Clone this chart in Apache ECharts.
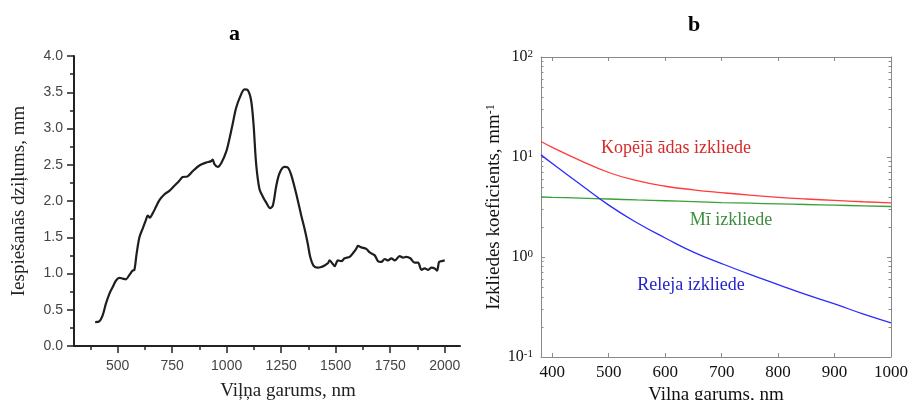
<!DOCTYPE html>
<html>
<head>
<meta charset="utf-8">
<script src="https://cdn.jsdelivr.net/npm/echarts@6/dist/echarts.min.js"></script>
<style>
  html, body { margin: 0; padding: 0; background: #fff; }
  #chart { width: 909px; height: 400px; }
</style>
</head>
<body>
<div id="chart"></div>
<script>
// a: penetration depth vs wavelength
var waveA = [397,416,431,446,462,477,492,508,523,538,554,569,577,587,600,615,630,638,648,661,676,691,714,737,760,783,798,821,844,875,906,929,936,944,959,975,998,1013,1028,1043,1062,1082,1097,1112,1123,1135,1150,1166,1181,1199,1212,1227,1242,1265,1281,1296,1319,1342,1357,1372,1383,1398,1418,1434,1449,1464,1472,1487,1495,1510,1526,1541,1564,1579,1594,1602,1618,1640,1656,1679,1694,1709,1725,1740,1755,1771,1793,1809,1824,1842,1862,1878,1893,1908,1924,1939,1954,1965,1974,1985,2000];
var depthA = [0.33,0.34,0.42,0.58,0.72,0.81,0.90,0.94,0.93,0.92,0.98,1.04,1.05,1.27,1.50,1.62,1.74,1.80,1.77,1.83,1.92,2.01,2.09,2.14,2.21,2.28,2.33,2.34,2.41,2.49,2.53,2.55,2.57,2.51,2.47,2.52,2.68,2.86,3.07,3.28,3.44,3.54,3.53,3.39,3.07,2.52,2.17,2.06,1.98,1.90,1.94,2.20,2.38,2.47,2.46,2.36,2.10,1.80,1.62,1.41,1.23,1.11,1.08,1.09,1.11,1.14,1.18,1.13,1.10,1.18,1.17,1.21,1.23,1.28,1.34,1.38,1.36,1.34,1.29,1.25,1.17,1.16,1.20,1.18,1.21,1.18,1.24,1.22,1.23,1.21,1.15,1.15,1.05,1.07,1.05,1.08,1.07,1.04,1.16,1.17,1.18];
var ticksA_major = [500,750,1000,1250,1500,1750,2000];
var ticksA_minor = [375,625,875,1125,1375,1625,1875];

// b: scattering coefficients (log scale)
var waveB = [380,400,450,500,550,600,650,700,750,800,850,900,950,1000];
var totalSkin = [14.3,12.5,9.2,7.0,5.8,5.1,4.7,4.4,4.15,3.95,3.8,3.68,3.57,3.47];
var mie = [3.98,3.95,3.88,3.8,3.72,3.65,3.58,3.5,3.45,3.4,3.35,3.3,3.25,3.2];
var rayleigh = [10.5,8.6,5.3,3.3,2.2,1.55,1.12,0.86,0.67,0.53,0.42,0.34,0.27,0.22];
var ticksB_x = [400,500,600,700,800,900,1000];
var ticksB_minor = [0.2,0.3,0.4,0.5,0.6,0.7,0.8,0.9,2,3,4,5,6,7,8,9,20,30,40,50,60,70,80,90];

var SERIF = "'Liberation Serif', 'DejaVu Serif', serif";
var SANS = "'Liberation Sans', Arial, sans-serif";

function pairs(xs, ys) {
  return xs.map(function (x, i) { return [x, ys[i]]; });
}
function plain(v) { return String(v); }

var chart = echarts.init(document.getElementById('chart'));

var frameB = { lineStyle: { color: '#8a8a8a', width: 1 } };
var tickB = { show: true, inside: true, length: 4, lineStyle: { color: '#8a8a8a' } };

chart.setOption({
  animation: false,
  title: [
    { text: 'a', left: 224, top: 18, textStyle: { fontFamily: SERIF, fontWeight: 'bold', fontSize: 22, color: '#000' } },
    { text: 'b', left: 683, top: 9, textStyle: { fontFamily: SERIF, fontWeight: 'bold', fontSize: 22, color: '#000' } }
  ],
  grid: [
    { left: 74, top: 56, width: 386, height: 290, outerBoundsMode: 'none', containLabel: false },
    { left: 541, top: 57, width: 350, height: 300, outerBoundsMode: 'none', containLabel: false }
  ],
  xAxis: [
    {
      gridIndex: 0, type: 'value', min: 300, max: 2070,
      name: 'Viļņa garums, nm', nameLocation: 'middle', nameGap: 36,
      nameTextStyle: { fontFamily: SERIF, fontSize: 19, color: '#222', padding: [0, 0, 0, 42] },
      axisLine: { lineStyle: { color: '#222', width: 2 } },
      axisTick: { show: true, length: 7, customValues: ticksA_major, lineStyle: { color: '#222', width: 1.5 } },
      axisLabel: { customValues: ticksA_major, formatter: plain, fontFamily: SANS, fontSize: 14, color: '#444', margin: 13 },
      splitLine: { show: false }
    },
    {
      gridIndex: 0, type: 'value', min: 300, max: 2070, position: 'bottom',
      axisLine: { show: false },
      axisTick: { show: true, length: 4, customValues: ticksA_minor, lineStyle: { color: '#222', width: 1.5 } },
      axisLabel: { show: false },
      splitLine: { show: false }
    },
    {
      gridIndex: 1, type: 'value', min: 380, max: 1000,
      name: 'Viļņa garums, nm', nameLocation: 'middle', nameGap: 21,
      nameTextStyle: { fontFamily: SERIF, fontSize: 19, color: '#111' },
      axisLine: frameB,
      axisTick: { show: true, inside: true, length: 4, customValues: ticksB_x, lineStyle: { color: '#8a8a8a' } },
      axisLabel: { customValues: ticksB_x, formatter: plain, fontFamily: SERIF, fontSize: 17, color: '#111', margin: 7 },
      splitLine: { show: false }
    },
    {
      gridIndex: 1, type: 'value', min: 380, max: 1000, position: 'top',
      axisLine: frameB,
      axisTick: { show: true, inside: true, length: 4, customValues: ticksB_x, lineStyle: { color: '#8a8a8a' } },
      axisLabel: { show: false },
      splitLine: { show: false }
    }
  ],
  yAxis: [
    {
      gridIndex: 0, type: 'value', min: 0, max: 4, interval: 0.5,
      name: 'Iespiešanās dziļums, mm', nameLocation: 'middle', nameGap: 45,
      nameTextStyle: { fontFamily: SERIF, fontSize: 19, color: '#222' },
      axisLine: { show: true, lineStyle: { color: '#222', width: 2 } },
      axisTick: { show: true, length: 7, lineStyle: { color: '#222', width: 1.5 } },
      minorTick: { show: true, splitNumber: 2, length: 4, lineStyle: { color: '#222', width: 1.5 } },
      axisLabel: { fontFamily: SANS, fontSize: 14, color: '#444', margin: 11, formatter: function (v) { return v.toFixed(1); } },
      splitLine: { show: false }
    },
    {
      gridIndex: 1, type: 'log', logBase: 10, min: 0.1, max: 100, position: 'left',
      name: '{t|Izkliedes koeficients, mm}{s|-1}', nameLocation: 'middle', nameGap: 32,
      nameTextStyle: {
        rich: {
          t: { fontFamily: SERIF, fontSize: 19, color: '#111' },
          s: { fontFamily: SERIF, fontSize: 12, color: '#111', verticalAlign: 'top' }
        }
      },
      axisLine: { show: true, lineStyle: { color: '#8a8a8a', width: 1 } },
      axisTick: tickB,
      axisLabel: {
        fontFamily: SERIF, margin: 8,
        formatter: function (v) {
          var e = Math.round(Math.log10(v));
          return '{b|10}{s|' + e + '}';
        },
        rich: {
          b: { fontFamily: SERIF, fontSize: 16, color: '#111' },
          s: { fontFamily: SERIF, fontSize: 11, color: '#111', verticalAlign: 'top' }
        }
      },
      splitLine: { show: false }
    },
    {
      gridIndex: 1, type: 'log', logBase: 10, min: 0.1, max: 100, position: 'left',
      axisLine: { show: false },
      axisTick: { show: true, inside: true, length: 2.5, customValues: ticksB_minor, lineStyle: { color: '#8a8a8a' } },
      axisLabel: { show: false },
      splitLine: { show: false }
    },
    {
      gridIndex: 1, type: 'log', logBase: 10, min: 0.1, max: 100, position: 'right',
      axisLine: { show: true, lineStyle: { color: '#8a8a8a', width: 1 } },
      axisTick: tickB,
      axisLabel: { show: false },
      splitLine: { show: false }
    },
    {
      gridIndex: 1, type: 'log', logBase: 10, min: 0.1, max: 100, position: 'right',
      axisLine: { show: false },
      axisTick: { show: true, inside: true, length: 2.5, customValues: ticksB_minor, lineStyle: { color: '#8a8a8a' } },
      axisLabel: { show: false },
      splitLine: { show: false }
    }
  ],
  series: [
    {
      type: 'line', xAxisIndex: 0, yAxisIndex: 0, data: pairs(waveA, depthA),
      showSymbol: false, smooth: 0.3, lineStyle: { color: '#1e1e1e', width: 2.2 }
    },
    {
      type: 'line', xAxisIndex: 2, yAxisIndex: 1, data: pairs(waveB, totalSkin),
      showSymbol: false, smooth: 0.5, lineStyle: { color: '#ff3b3b', width: 1.3 }
    },
    {
      type: 'line', xAxisIndex: 2, yAxisIndex: 1, data: pairs(waveB, mie),
      showSymbol: false, smooth: 0.5, lineStyle: { color: '#3aa03a', width: 1.3 }
    },
    {
      type: 'line', xAxisIndex: 2, yAxisIndex: 1, data: pairs(waveB, rayleigh),
      showSymbol: false, smooth: 0.5, lineStyle: { color: '#2b2bff', width: 1.3 }
    }
  ],
  graphic: [
    { type: 'text', x: 676, y: 148, style: { text: 'Kopējā ādas izkliede', fill: '#d42a2a', font: '18px ' + SERIF, textAlign: 'center', textVerticalAlign: 'middle' } },
    { type: 'text', x: 731, y: 220, style: { text: 'Mī izkliede', fill: '#3c8f3c', font: '18px ' + SERIF, textAlign: 'center', textVerticalAlign: 'middle' } },
    { type: 'text', x: 691, y: 285, style: { text: 'Releja izkliede', fill: '#2323c8', font: '18px ' + SERIF, textAlign: 'center', textVerticalAlign: 'middle' } }
  ]
});
</script>
</body>
</html>
